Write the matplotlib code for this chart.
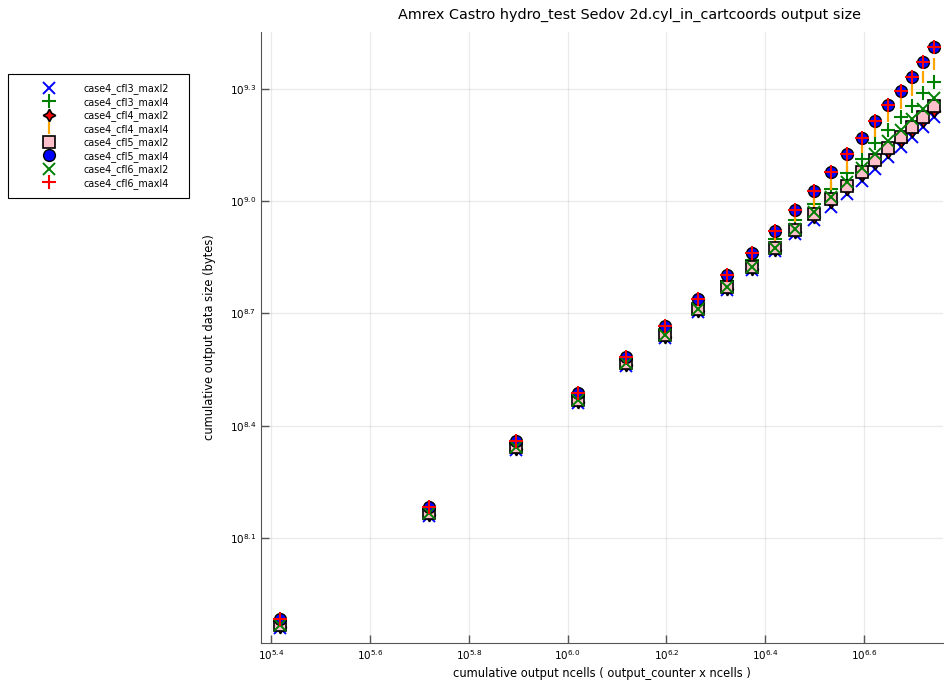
import numpy as np
import matplotlib
matplotlib.use("Agg")
import matplotlib.pyplot as plt
from matplotlib.patches import Rectangle
from matplotlib.ticker import FixedLocator, NullLocator

ncells = 262144
output_counter = np.arange(1, 22)

# cumulative output size in bytes, one list per run
cfl3_maxl2 = [7.24e7, 1.44e8, 2.16e8, 2.89e8, 3.63e8, 4.31e8, 5.06e8, 5.79e8, 6.55e8, 7.36e8,
              8.17e8, 8.91e8, 9.65e8, 1.045e9, 1.132e9, 1.219e9, 1.313e9, 1.396e9, 1.484e9, 1.579e9, 1.679e9]
cfl3_maxl4 = [7.55e7, 1.504e8, 2.26e8, 3.02e8, 3.79e8, 4.53e8, 5.31e8, 6.12e8, 6.97e8, 7.93e8,
              8.91e8, 9.83e8, 1.078e9, 1.19e9, 1.297e9, 1.431e9, 1.55e9, 1.679e9, 1.797e9, 1.946e9, 2.083e9]
cfl4_maxl2 = [7.28e7, 1.45e8, 2.18e8, 2.91e8, 3.65e8, 4.34e8, 5.09e8, 5.83e8, 6.59e8, 7.41e8,
              8.28e8, 9.08e8, 9.95e8, 1.078e9, 1.175e9, 1.265e9, 1.353e9, 1.448e9, 1.541e9, 1.638e9, 1.742e9]
cfl4_maxl4 = [7.6e7, 1.514e8, 2.27e8, 3.04e8, 3.81e8, 4.58e8, 5.41e8, 6.23e8, 7.14e8, 8.12e8,
              9.13e8, 1.001e9, 1.112e9, 1.242e9, 1.396e9, 1.541e9, 1.689e9, 1.83e9, 1.983e9, 2.148e9, 2.326e9]
cfl5_maxl2 = [7.37e7, 1.47e8, 2.2e8, 2.94e8, 3.7e8, 4.39e8, 5.15e8, 5.9e8, 6.67e8, 7.5e8,
              8.38e8, 9.24e8, 1.014e9, 1.098e9, 1.197e9, 1.289e9, 1.388e9, 1.484e9, 1.579e9, 1.679e9, 1.797e9]
cfl5_maxl4 = [7.65e7, 1.52e8, 2.29e8, 3.07e8, 3.83e8, 4.64e8, 5.48e8, 6.35e8, 7.27e8, 8.33e8,
              9.47e8, 1.065e9, 1.197e9, 1.337e9, 1.475e9, 1.638e9, 1.808e9, 1.971e9, 2.148e9, 2.355e9, 2.583e9]
cfl6_maxl2 = [7.37e7, 1.47e8, 2.2e8, 2.94e8, 3.7e8, 4.39e8, 5.15e8, 5.9e8, 6.67e8, 7.5e8,
              8.43e8, 9.36e8, 1.026e9, 1.126e9, 1.227e9, 1.337e9, 1.448e9, 1.55e9, 1.659e9, 1.764e9, 1.887e9]
cfl6_maxl4 = [7.65e7, 1.52e8, 2.29e8, 3.07e8, 3.83e8, 4.64e8, 5.48e8, 6.35e8, 7.27e8, 8.33e8,
              9.47e8, 1.065e9, 1.197e9, 1.337e9, 1.475e9, 1.638e9, 1.808e9, 1.971e9, 2.148e9, 2.355e9, 2.583e9]

xticks_exp = [5.4, 5.6, 5.8, 6.0, 6.2, 6.4, 6.6]
yticks_exp = [8.1, 8.4, 8.7, 9.0, 9.3]

x = output_counter * ncells

W, H = 945, 683
fig = plt.figure(figsize=(W / 100, H / 100), dpi=100)
ax = fig.add_axes([0.2762, 0.0586, 0.7218, 0.8945])

series = [
    ("case4_cfl3_maxl2", cfl3_maxl2, dict(marker="x", color="blue", mew=1.4, ms=8)),
    ("case4_cfl3_maxl4", cfl3_maxl4, dict(marker="+", color="green", mew=1.5, ms=9.5)),
    ("case4_cfl4_maxl2", cfl4_maxl2, dict(marker=(4, 1, 0), mfc="red", mec="black", mew=1.2, ms=9)),
    ("case4_cfl4_maxl4", cfl4_maxl4, dict(marker="|", color="orange", mew=1.6, ms=9)),
    ("case4_cfl5_maxl2", cfl5_maxl2, dict(marker="s", mfc="pink", mec="black", mew=1.2, ms=8.5)),
    ("case4_cfl5_maxl4", cfl5_maxl4, dict(marker="o", mfc="blue", mec="black", mew=1.0, ms=8.5)),
    ("case4_cfl6_maxl2", cfl6_maxl2, dict(marker="x", color="green", mew=1.4, ms=8)),
    ("case4_cfl6_maxl4", cfl6_maxl4, dict(marker="+", color="red", mew=1.5, ms=9.5)),
]
handles = []
for name, vals, style in series:
    h, = ax.plot(x, vals, linestyle="none", label=name, **style)
    handles.append(h)

ax.set_xscale("log")
ax.set_yscale("log")
ax.set_xlim(10 ** 5.3798, 10 ** 6.7596)
ax.set_ylim(10 ** 7.819, 10 ** 9.452)

ax.xaxis.set_major_locator(FixedLocator([10 ** e for e in xticks_exp]))
ax.yaxis.set_major_locator(FixedLocator([10 ** e for e in yticks_exp]))
ax.xaxis.set_minor_locator(NullLocator())
ax.yaxis.set_minor_locator(NullLocator())
ax.set_xticklabels([r"$10^{%.1f}$" % e for e in xticks_exp])
ax.set_yticklabels([r"$10^{%.1f}$" % e for e in yticks_exp])
ax.tick_params(direction="in", length=6, width=1, labelsize=7.5, color="#555555")

ax.grid(True, color="black", alpha=0.08, linewidth=1)
ax.set_axisbelow(True)
for side in ("top", "right"):
    ax.spines[side].set_visible(False)
for side in ("left", "bottom"):
    ax.spines[side].set_color("#555555")

ax.set_xlabel("cumulative output ncells ( output_counter x ncells )", fontsize=8.3, labelpad=4)
ax.set_ylabel("cumulative output data size (bytes)", fontsize=8.3, labelpad=10)
fig.text(630 / W, 1 - 15 / H, "Amrex Castro hydro_test Sedov 2d.cyl_in_cartcoords output size",
         fontsize=10.4, ha="center", va="center")

# legend outside the axes on the left, with a plain box drawn around it
leg = fig.legend(handles=handles, loc="upper left", bbox_to_anchor=(0.0085, 0.892),
                 fontsize=6.9, frameon=False, handlelength=6.6, handletextpad=0.25,
                 borderpad=1.0, labelspacing=0.27, borderaxespad=0)
fig.patches.append(Rectangle((8 / W, 1 - 198 / H), 181 / W, 124 / H, transform=fig.transFigure,
                             fill=False, edgecolor="black", linewidth=0.8))

fig.savefig("out.png", dpi=100)
